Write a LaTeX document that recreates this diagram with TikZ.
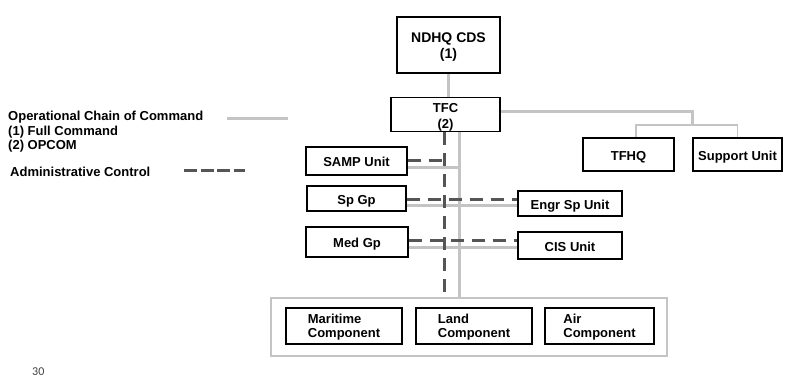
\documentclass[tikz,border=0pt]{standalone}
\usepackage{fontspec}
\setmainfont{Liberation Sans}
\newfontfamily\pagefont{Carlito}
\definecolor{cmdgray}{HTML}{C4C4C4}
\definecolor{admgray}{HTML}{555555}
\begin{document}
\begin{tikzpicture}[x=1pt,y=-1pt,
  box/.style={draw=black,line width=1.3pt,fill=white,inner sep=0pt,align=center,
    font=\fontsize{13}{16}\selectfont\bfseries},
  onebox/.style={box,text height=11pt,text depth=0pt},
  compbox/.style={box,minimum height=36pt,align=left,font=\fontsize{13}{14}\selectfont\bfseries},
  cmd/.style={draw=cmdgray,line width=3pt},
  cmdthin/.style={draw=cmdgray,line width=1.5pt},
  adm/.style={draw=admgray,line width=3pt,dash pattern=on 13pt off 8pt},
  legtext/.style={anchor=west,inner sep=0pt,align=left,font=\fontsize{13}{14.5}\selectfont\bfseries}]
\useasboundingbox (0,0) rectangle (803,381);

% nodes
\node[box,minimum width=103pt,minimum height=56pt,font=\fontsize{14}{16}\selectfont\bfseries] (ndhq) at (448.5,45) {\rule{0pt}{14pt}NDHQ CDS\\(1)};
\node[box,minimum width=109pt,minimum height=31pt] (tfc) at (445.5,114.5) {\rule{0pt}{15pt}TFC\\(2)};
\node[onebox,minimum width=91pt,minimum height=33pt] (tfhq) at (628.5,154.5) {TFHQ};
\node[onebox,minimum width=89pt,minimum height=33pt] (sup) at (737.5,154.5) {Support Unit};
\node[onebox,minimum width=101pt,minimum height=28pt] (samp) at (356.5,161) {SAMP Unit};
\node[onebox,minimum width=99pt,minimum height=25pt] (spgp) at (356.5,198.5) {Sp Gp};
\node[onebox,minimum width=102pt,minimum height=30pt] (medgp) at (357,242) {Med Gp};
\node[onebox,minimum width=104pt,minimum height=25pt] (engr) at (570,203.5) {Engr Sp Unit};
\node[onebox,minimum width=104pt,minimum height=27pt] (cis) at (570,245.5) {CIS Unit};
\node[draw=cmdgray,line width=2.2pt,minimum width=396pt,minimum height=58pt,inner sep=0pt] (comp) at (469,327) {};
\node[compbox,minimum width=116pt] (mar) at (344,326) {\rule{0pt}{11pt}Maritime\\Component};
\node[compbox,minimum width=116pt] (land) at (474,326) {\rule{0pt}{11pt}Land\\Component};
\node[compbox,minimum width=109pt] (air) at (599.5,326) {\rule{0pt}{11pt}Air\\Component};

% trunk coordinates
\coordinate (ctop) at (459,130);
\coordinate (dtop) at (444,130);
\coordinate (branch) at (692,125);

% command lines
\draw[cmd] (ndhq.south) -- (ndhq.south |- tfc.north);
\draw[cmd] (tfc.east |- 0,111) -| (branch);
\draw[cmdthin] (tfhq.north -| 636,0) |- (branch) -| (sup.north);
\draw[cmd] (tfc.south -| ctop) -- (comp.north -| ctop);
\draw[cmd] (samp.east |- 0,167) -- (ctop |- 0,167);
\draw[cmd] (spgp.east |- 0,205) -- (engr.west |- 0,205);
\draw[cmd] (medgp.east |- 0,247) -- (cis.west |- 0,247);

% administrative lines
\draw[adm] (tfc.south -| dtop) -- (comp.north -| dtop);
\draw[adm] (samp.east |- 0,160) -- (dtop |- 0,160);
\draw[adm] (spgp.east |- 0,199) -- (engr.west |- 0,199);
\draw[adm] (medgp.east |- 0,240) -- (cis.west |- 0,240);

% legend
\node[legtext] (leg1) at (8,132) {Operational Chain of Command\\(1) Full Command\\(2) OPCOM};
\coordinate (l1a) at (227,118);
\coordinate (l1b) at (288,118);
\draw[cmd] (l1a) -- (l1b);
\node[legtext] (leg2) at (10,172) {Administrative Control};
\coordinate (l2a) at (184,170);
\coordinate (l2b) at (245,170);
\draw[draw=admgray,line width=3pt,dash pattern=on 13pt off 3.5pt] (l2a) -- (l2b);

% page number
\node[anchor=west,inner sep=0pt,text=black!75,font=\pagefont\fontsize{12}{14}\selectfont] (pg) at (32,372) {30};
\end{tikzpicture}
\end{document}
